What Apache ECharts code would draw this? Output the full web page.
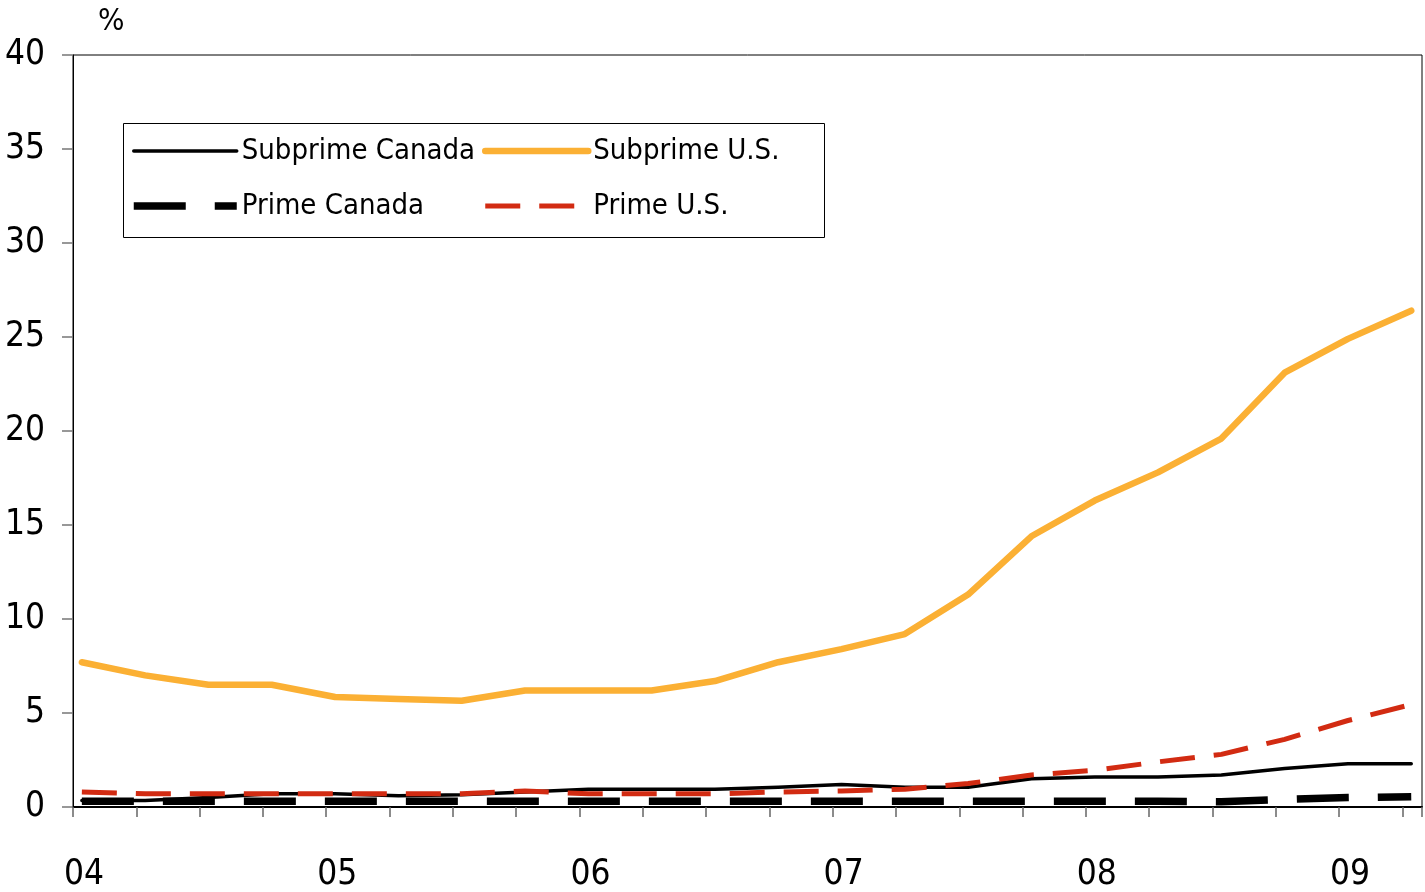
<!DOCTYPE html>
<html>
<head>
<meta charset="utf-8">
<script src="https://cdn.jsdelivr.net/npm/echarts@6/dist/echarts.min.js"></script>
<style>
  html, body { margin: 0; padding: 0; background: #fff; }
  #chart { width: 1425px; height: 892px; }
</style>
</head>
<body>
<div id="chart"></div>
<script>
// quarterly observations, 2004Q1 .. 2009Q2
const quarterOffset = 0.14
const yearLabels = ['04', '05', '06', '07', '08', '09']

const subprimeCanada = [0.35, 0.35, 0.5, 0.7, 0.7, 0.6, 0.65, 0.8, 0.95, 0.95, 0.95, 1.05, 1.2, 1.05, 1.05, 1.5, 1.6, 1.6, 1.7, 2.05, 2.3, 2.3]
const subprimeUS = [7.7, 7.0, 6.5, 6.5, 5.85, 5.75, 5.65, 6.2, 6.2, 6.2, 6.7, 7.7, 8.4, 9.2, 11.3, 14.4, 16.3, 17.8, 19.6, 23.1, 24.9, 26.4]
const primeCanada = [0.3, 0.3, 0.3, 0.3, 0.3, 0.3, 0.3, 0.3, 0.3, 0.3, 0.3, 0.3, 0.3, 0.3, 0.3, 0.3, 0.3, 0.3, 0.28, 0.4, 0.5, 0.55]
const primeUS = [0.8, 0.7, 0.7, 0.7, 0.7, 0.7, 0.7, 0.85, 0.7, 0.7, 0.7, 0.8, 0.85, 0.95, 1.25, 1.7, 1.95, 2.4, 2.8, 3.6, 4.6, 5.45]

const FONT = "'DejaVu Sans Condensed', 'DejaVu Sans', sans-serif"

// x 值 = 季度序号
const toPoints = (arr) => arr.map((v, i) => [i + quarterOffset, v])

const legendBase = {
  orient: 'vertical',
  top: 136,
  padding: 0,
  itemWidth: 103,
  itemHeight: 14,
  itemGap: 25,
  selectedMode: false,
  itemStyle: { opacity: 0 },
  lineStyle: { width: 'inherit' },
  textStyle: { fontFamily: FONT, fontSize: 29, color: '#000', lineHeight: 30 }
}

const chart = echarts.init(document.getElementById('chart'))

chart.setOption({
  animation: false,
  grid: {
    left: 73,
    right: 3,
    top: 55,
    bottom: 85,
    show: true,
    borderColor: '#000',
    borderWidth: 1
  },
  legend: [
    { ...legendBase, left: 130, data: ['Subprime Canada', 'Prime Canada'] },
    { ...legendBase, left: 482, data: ['Subprime U.S.', 'Prime U.S.'] }
  ],
  graphic: [
    {
      type: 'rect',
      left: 121,
      top: 121,
      shape: { width: 701, height: 114 },
      style: { fill: 'none', stroke: '#000', lineWidth: 1 },
      z: 1
    }
  ],
  xAxis: {
    type: 'value',
    min: 0,
    max: 21.31,
    interval: 1,
    axisLine: { lineStyle: { color: '#000', width: 2 } },
    axisTick: { length: 10, lineStyle: { color: '#666', width: 1.5 } },
    splitLine: { show: false },
    axisLabel: {
      fontFamily: FONT,
      fontSize: 35,
      color: '#000',
      margin: 50,
      padding: [0, 0, 0, 22],
      formatter: (v) => (Math.abs(v % 4) < 1e-6 ? yearLabels[v / 4] : '')
    }
  },
  yAxis: {
    type: 'value',
    min: 0,
    max: 40,
    interval: 5,
    name: '%',
    nameLocation: 'end',
    nameGap: 18,
    nameTextStyle: { fontFamily: FONT, fontSize: 31, color: '#000', align: 'left', padding: [0, 0, 0, 25] },
    axisLine: { show: true, lineStyle: { color: '#000', width: 1 } },
    axisTick: { show: true, length: 11, lineStyle: { color: '#777', width: 1.5 } },
    splitLine: { show: false },
    axisLabel: { fontFamily: FONT, fontSize: 35, color: '#000', margin: 28 }
  },
  series: [
    {
      name: 'Subprime Canada',
      type: 'line',
      data: toPoints(subprimeCanada),
      symbol: 'none',
      color: '#000',
      lineStyle: { color: '#000', width: 3.5, cap: 'round', join: 'round' }
    },
    {
      name: 'Prime Canada',
      type: 'line',
      data: toPoints(primeCanada),
      symbol: 'none',
      color: '#000',
      lineStyle: { color: '#000', width: 7.5, type: [52, 29] }
    },
    {
      name: 'Subprime U.S.',
      type: 'line',
      data: toPoints(subprimeUS),
      symbol: 'none',
      color: '#FBB034',
      lineStyle: { color: '#FBB034', width: 6.5, cap: 'round', join: 'round' }
    },
    {
      name: 'Prime U.S.',
      type: 'line',
      data: toPoints(primeUS),
      symbol: 'none',
      color: '#D22B12',
      lineStyle: { color: '#D22B12', width: 5, type: [35, 19] }
    }
  ]
})
</script>
</body>
</html>
